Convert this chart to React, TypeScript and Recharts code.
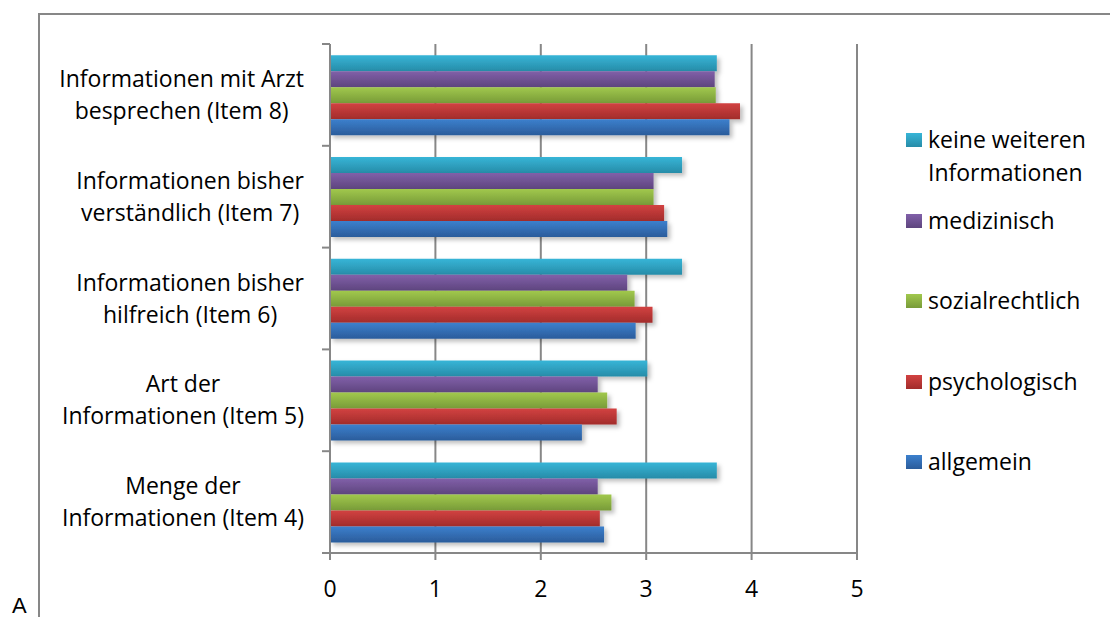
import { Bar, BarChart, CartesianGrid, XAxis, YAxis } from "recharts";

const categories = [
    "Informationen mit Arzt\nbesprechen (Item 8)",
    "Informationen bisher\nverständlich (Item 7)",
    "Informationen bisher\nhilfreich (Item 6)",
    "Art der\nInformationen (Item 5)",
    "Menge der\nInformationen (Item 4)",
];

const keineWeiteren = [3.67, 3.34, 3.34, 3.01, 3.67];
const medizinisch = [3.65, 3.07, 2.82, 2.54, 2.54];
const sozialrechtlich = [3.66, 3.07, 2.89, 2.63, 2.67];
const psychologisch = [3.89, 3.17, 3.06, 2.72, 2.56];
const allgemein = [3.79, 3.2, 2.9, 2.39, 2.6];

const xTicks = [0, 1, 2, 3, 4, 5];

// top-to-bottom order inside each group, same as the legend
const series = [
    { key: "keine", name: "keine weiteren\nInformationen", values: keineWeiteren, top: "#37b5d7", bottom: "#278ca8" },
    { key: "med", name: "medizinisch", values: medizinisch, top: "#8160a9", bottom: "#5e457e" },
    { key: "soz", name: "sozialrechtlich", values: sozialrechtlich, top: "#a1c84d", bottom: "#789b38" },
    { key: "psy", name: "psychologisch", values: psychologisch, top: "#d24241", bottom: "#a22c2b" },
    { key: "allg", name: "allgemein", values: allgemein, top: "#3c80cd", bottom: "#2b5c9b" },
];

const data = categories.map((category, i) => {
    const row: Record<string, string | number> = { category };
    series.forEach((s) => (row[s.key] = s.values[i]));
    return row;
});

const FONT = '"Open Sans", sans-serif';
const W = 1110;
const H = 617;
const TOP = 44;
const BOTTOM = 553;
const AXIS_X = 330;
const LABEL_RIGHT = 304;
const GRAY = "#878787";

let ctx: CanvasRenderingContext2D | null = null;
function textWidth(t: string) {
    if (!ctx) ctx = document.createElement("canvas").getContext("2d");
    if (!ctx) return t.length * 12;
    ctx.font = `23px ${FONT}`;
    return ctx.measureText(t).width;
}

function CategoryTick(props: any) {
    const { y, payload, index } = props;
    const lines: string[] = String(payload.value).split("\n");
    const blockW = Math.max(...lines.map(textWidth));
    const cx = LABEL_RIGHT - blockW / 2;
    const band = (BOTTOM - TOP) / categories.length;
    const lh = 32;
    const y0 = y - ((lines.length - 1) * lh) / 2;
    return (
        <g>
            <line x1={AXIS_X - 8} x2={AXIS_X} y1={y - band / 2} y2={y - band / 2} stroke={GRAY} strokeWidth={2} />
            {index === categories.length - 1 && (
                <line x1={AXIS_X - 8} x2={AXIS_X} y1={y + band / 2} y2={y + band / 2} stroke={GRAY} strokeWidth={2} />
            )}
            <text textAnchor="middle" fill="#000" fontSize={23} fontFamily={FONT}>
                {lines.map((l, i) => (
                    <tspan key={i} x={cx} y={y0 + i * lh} dy="0.35em">{l}</tspan>
                ))}
            </text>
        </g>
    );
}

export default function App() {
    return (
        <div style={{ position: "absolute", left: 0, top: 0, width: W, height: H, background: "#fff", overflow: "hidden", fontFamily: FONT }}>
            {/* outer frame */}
            <div style={{ position: "absolute", left: 38, top: 13, width: W, height: H, borderLeft: `2px solid ${GRAY}`, borderTop: `2px solid ${GRAY}` }} />
            <div style={{ position: "absolute", left: 12, top: 595, fontSize: 22, lineHeight: "22px", color: "#000", fontFamily: '"Liberation Sans", Arial, sans-serif' }}>A</div>

            <div style={{ position: "absolute", left: 0, top: 0 }}>
                <BarChart
                    width={W}
                    height={H}
                    data={data}
                    layout="vertical"
                    barCategoryGap="11%"
                    barGap={0}
                    margin={{ top: TOP, right: W - 857, bottom: 0, left: 0 }}>
                    <defs>
                        {series.map((s) => (
                            <linearGradient key={s.key} id={`g-${s.key}`} x1="0" y1="0" x2="0" y2="1">
                                <stop offset="0%" stopColor={s.top} />
                                <stop offset="100%" stopColor={s.bottom} />
                            </linearGradient>
                        ))}
                        <filter id="shadow" x="-5%" y="-30%" width="115%" height="180%">
                            <feDropShadow dx="3" dy="3" stdDeviation="2" floodColor="#000" floodOpacity="0.25" />
                        </filter>
                    </defs>

                    <CartesianGrid horizontal={false} stroke={GRAY} strokeWidth={2} />

                    <XAxis
                        type="number"
                        domain={[0, 5]}
                        ticks={xTicks}
                        height={H - BOTTOM}
                        stroke={GRAY}
                        axisLine={{ stroke: GRAY, strokeWidth: 2 }}
                        tickLine={{ stroke: GRAY, strokeWidth: 2 }}
                        tickSize={7}
                        tickMargin={21}
                        tick={{ fill: "#000", fontSize: 23, fontFamily: FONT }} />
                    <YAxis
                        type="category"
                        dataKey="category"
                        width={AXIS_X}
                        axisLine={{ stroke: GRAY, strokeWidth: 2 }}
                        tickLine={false}
                        interval={0}
                        tick={<CategoryTick />} />

                    {series.map((s) => (
                        <Bar
                            key={s.key}
                            dataKey={s.key}
                            name={s.name}
                            fill={`url(#g-${s.key})`}
                            filter="url(#shadow)"
                            isAnimationActive={false} />
                    ))}
                </BarChart>
            </div>

            {/* legend */}
            <div style={{ position: "absolute", left: 906, top: 123 }}>
                {series.map((s) => (
                    <div key={s.key} style={{ position: "relative", height: 80.5, fontSize: 23, lineHeight: "33px", color: "#000" }}>
                        <span style={{ position: "absolute", left: 0, top: 10, width: 16, height: 14, background: `linear-gradient(${s.top}, ${s.bottom})` }} />
                        <div style={{ position: "absolute", left: 22, top: 0, whiteSpace: "pre" }}>{s.name}</div>
                    </div>
                ))}
            </div>
        </div>
    );
}
